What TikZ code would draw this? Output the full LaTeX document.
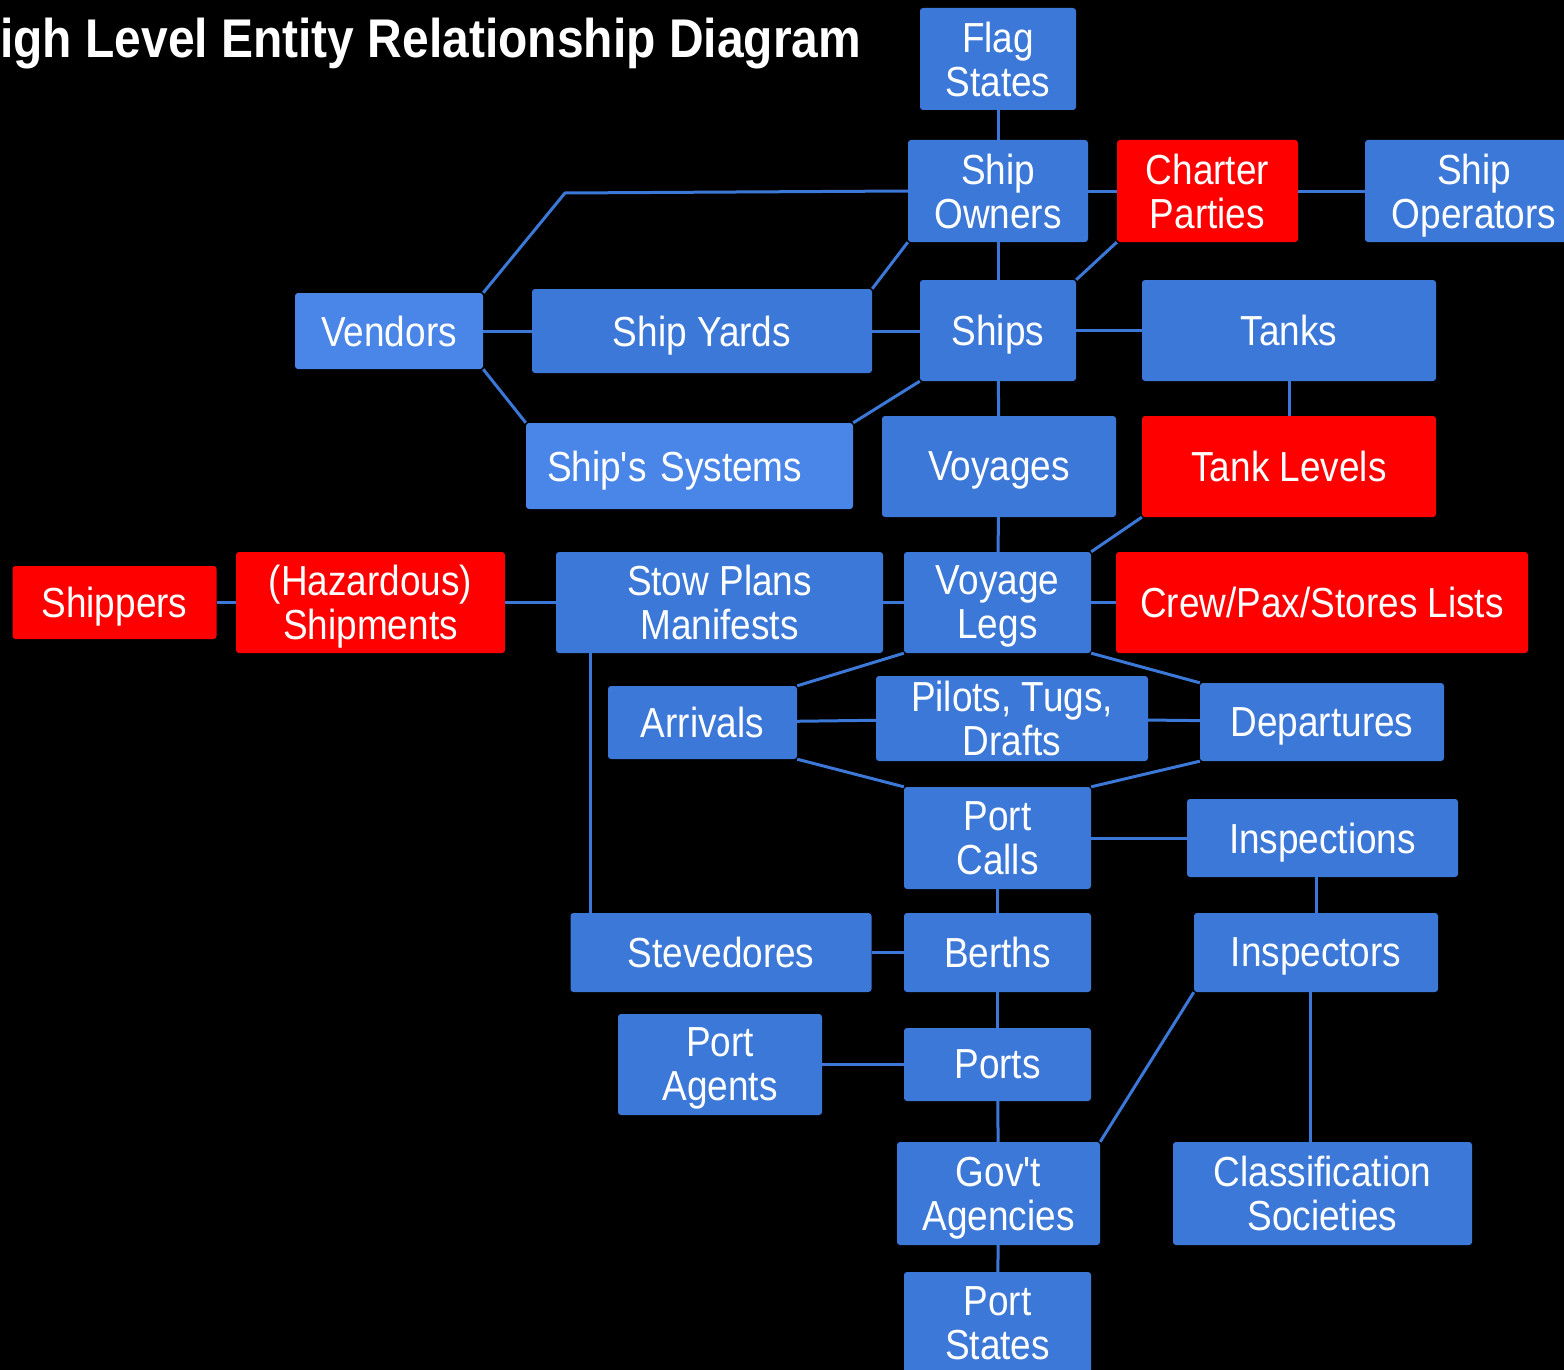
\documentclass[tikz,border=0pt]{standalone}
\usepackage{fontspec}
\setmainfont{Liberation Sans}[FakeStretch=0.88, Ligatures=TeXOff]
\usepackage{tikz}
\definecolor{boxblue}{HTML}{3C78D8}
\definecolor{liteblue}{HTML}{4A86E8}
\definecolor{hotred}{HTML}{FF0000}

\begin{document}
\begin{tikzpicture}[ent/.style={rectangle, fill=boxblue, text=white, rounded corners=3pt, align=center, inner sep=0pt, text depth=0pt, font=\fontsize{42}{44}\selectfont}, lite/.style={ent, fill=liteblue}, hot/.style={ent, fill=hotred}, dims/.style 2 args={minimum width=#1pt, minimum height=#2pt}, link/.style={draw=boxblue, line width=3pt}, every edge/.style={link}]
\clip (0pt, 0pt) rectangle (1564pt, -1370pt);
\fill[black] (0pt, 0pt) rectangle (1564pt, -1370pt);
\draw (0pt, -58pt)node[anchor=base west, inner sep=0pt, text=white, font=\bfseries\fontsize{54.5}{60}\selectfont](title){igh Level Entity Relationship Diagram};
\draw (998.0pt, -59.0pt)node[ent, dims={156}{102}](flag){Flag\\States};
\draw (998.0pt, -191.0pt)node[ent, dims={180}{102}](owners){Ship\\Owners};
\draw (1207.5pt, -191.0pt)node[hot, dims={181}{102}](charter){Charter\\Parties};
\draw (1474.0pt, -191.0pt)node[ent, dims={218}{102}](operators){Ship\\Operators};
\draw (389.0pt, -331.0pt)node[lite, dims={188}{76}](vendors){Vendors};
\draw (702.0pt, -331.0pt)node[ent, dims={340}{84}](yards){Ship Yards};
\draw (998.0pt, -330.5pt)node[ent, dims={156}{101}](ships){Ships};
\draw (1289.0pt, -330.5pt)node[ent, dims={294}{101}](tanks){Tanks};
\draw (689.5pt, -466.0pt)node[lite, dims={327}{86}, align=left, text width=285pt](systems){Ship's Systems};
\draw (999.0pt, -466.5pt)node[ent, dims={234}{101}](voyages){Voyages};
\draw (1289.0pt, -466.5pt)node[hot, dims={294}{101}](levels){Tank Levels};
\draw (114.5pt, -602.5pt)node[hot, dims={204}{73}](shippers){Shippers};
\draw (370.5pt, -602.5pt)node[hot, dims={269}{101}](shipments){(Hazardous)\\Shipments};
\draw (719.5pt, -602.5pt)node[ent, dims={327}{101}](stow){Stow Plans\\Manifests};
\draw (997.5pt, -602.5pt)node[ent, dims={187}{101}](legs){Voyage\\Legs};
\draw (1322.0pt, -602.5pt)node[hot, dims={412}{101}](crew){Crew/Pax/Stores Lists};
\draw (702.5pt, -722.5pt)node[ent, dims={189}{73}](arrivals){Arrivals};
\draw (1012.0pt, -718.5pt)node[ent, dims={272}{85}](pilots){Pilots, Tugs,\\Drafts};
\draw (1322.0pt, -722.0pt)node[ent, dims={244}{78}](departures){Departures};
\draw (997.5pt, -838.0pt)node[ent, dims={187}{102}](calls){Port\\Calls};
\draw (1322.5pt, -838.0pt)node[ent, dims={271}{78}](inspections){Inspections};
\draw (721.0pt, -952.5pt)node[ent, dims={301}{79}](stevedores){Stevedores};
\draw (997.5pt, -952.5pt)node[ent, dims={187}{79}](berths){Berths};
\draw (1316.0pt, -952.5pt)node[ent, dims={244}{79}](inspectors){Inspectors};
\draw (720.0pt, -1064.5pt)node[ent, dims={204}{101}](agents){Port\\Agents};
\draw (997.5pt, -1064.5pt)node[ent, dims={187}{73}](ports){Ports};
\draw (998.5pt, -1193.5pt)node[ent, dims={203}{103}](gov){Gov't\\Agencies};
\draw (1322.5pt, -1193.5pt)node[ent, dims={299}{103}](societies){Classification\\Societies};
\draw (997.5pt, -1323.0pt)node[ent, dims={187}{102}](pstates){Port\\States};
\coordinate (bend) at (565pt, -193pt);
\draw[link, line join=round] (vendors.north east) -- (bend) -- (owners.west);
\path (flag) edge (owners);
\path (owners) edge (charter);
\path (charter) edge (operators);
\path (owners.south west) edge (yards.north east);
\path (charter.south west) edge (ships.north east);
\path (owners) edge (ships);
\path (vendors) edge (yards);
\path (yards.east) edge (yards.east -| ships.west);
\path (ships) edge (tanks);
\path (vendors.south east) edge (systems.north west);
\path (ships.south west) edge (systems.north east);
\path (ships) edge (voyages);
\path (tanks) edge (levels);
\path (voyages) edge (legs);
\path (levels.south west) edge (legs.north east);
\path (shippers) edge (shipments);
\path (shipments) edge (stow);
\path (stow) edge (legs);
\path (legs) edge (crew);
\path (legs.south west) edge (arrivals.north east);
\path (legs.south east) edge (departures.north west);
\path (arrivals) edge (pilots);
\path (pilots) edge (departures);
\path (arrivals.south east) edge (calls.north west);
\path (departures.south west) edge (calls.north east);
\path (calls) edge (inspections);
\path ([xshift=35pt]stow.south west) edge ([xshift=35pt]stow.south west |- stevedores.north);
\path (calls) edge (berths);
\path (inspectors.north) edge (inspectors.north |- inspections.south);
\path (stevedores) edge (berths);
\path (berths) edge (ports);
\path (agents) edge (ports);
\path (ports) edge (gov);
\path (inspectors.south west) edge (gov.north east);
\path ([xshift=-6pt]inspectors.south) edge ([xshift=-6pt]inspectors.south |- societies.north);
\path (gov) edge (pstates);
\end{tikzpicture}
\end{document}
